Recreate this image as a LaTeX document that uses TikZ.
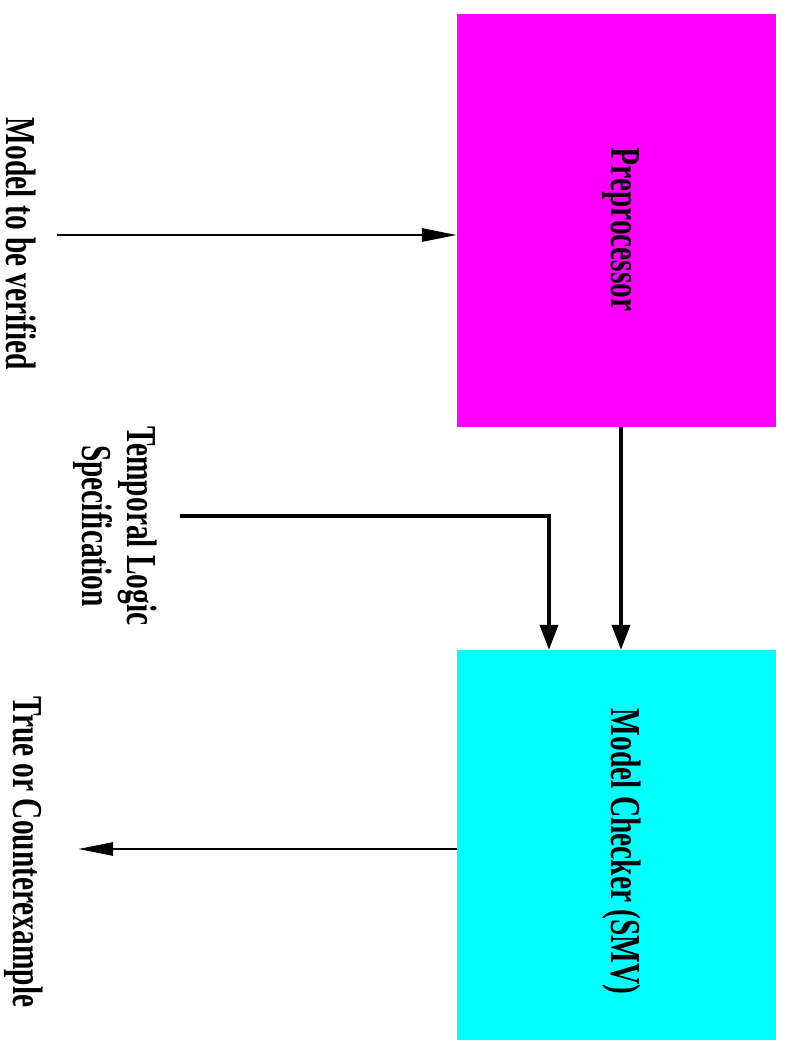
\documentclass[tikz,border=0pt]{standalone}
\usepackage{fontspec}
\setmainfont{Liberation Serif}
\usepackage{graphicx}
\usetikzlibrary{arrows.meta}
\definecolor{prepfill}{RGB}{255,0,255}
\definecolor{mcfill}{RGB}{0,255,255}
\newcommand{\tallt}[1]{\scalebox{1}[1.45]{#1}}

\begin{document}
\begin{tikzpicture}[x=1pt,y=-1pt,
    lbl/.style={rotate=-90,inner sep=0pt,
      font=\fontsize{29.4}{31}\selectfont\bfseries},
    blk/.style={minimum width=319pt,inner sep=0pt},
    harrow/.style={line width=2.7pt,-{Triangle[length=35pt,width=13pt]}},
    varrow/.style={line width=3.7pt,-{Triangle[length=25pt,width=18pt]}}]
  \useasboundingbox (0,0) rectangle (785,1042);
  % the two blocks
  \node[blk,fill=prepfill,minimum height=413pt] (prep) at (616.5,220.5) {};
  \node[blk,fill=mcfill,minimum height=390pt] (mc) at (616.5,845) {};
  \node[lbl,anchor=base] (prepname) at (611,229.5) {\tallt{Preprocessor}};
  \node[lbl,anchor=base] (mcname) at (611,851.5) {\tallt{Model Checker (SMV)}};
  % inputs and output
  \node[lbl,anchor=base] (model) at (6,244) {\tallt{Model to be verified}};
  \node[lbl] (spec) at (114,526)
    {\tallt{\begin{tabular}{@{}c@{}}Temporal Logic\\Specification\end{tabular}}};
  \node[lbl,anchor=base] (result) at (13,852) {\tallt{True or Counterexample}};
  \coordinate (m0) at (57,235);
  \coordinate (s0) at (180,516);
  \coordinate (r0) at (78,849);
  \begin{scope}
    \draw[harrow] (m0) -- (m0 -| prep.west);
    \draw[varrow] ([xshift=4.5pt]prep.south) -- ([xshift=4.5pt]mc.north);
    \draw[varrow] (s0) -| ([xshift=-67.5pt]mc.north);
    \draw[harrow] (r0 -| mc.west) -- (r0);
  \end{scope}
\end{tikzpicture}
\end{document}
